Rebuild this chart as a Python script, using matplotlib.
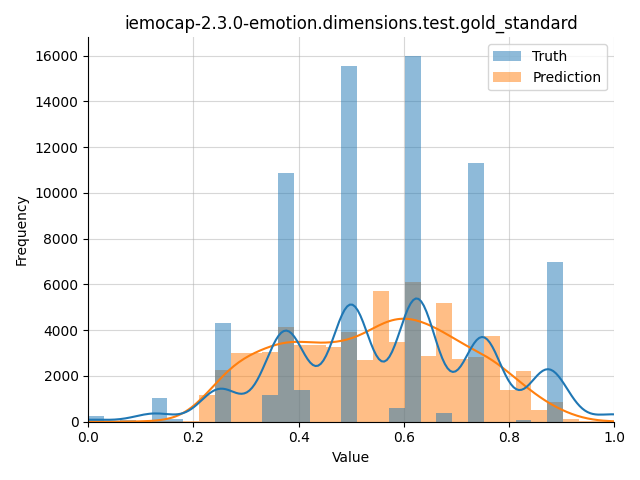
import numpy as np
import matplotlib
matplotlib.use("Agg")
import matplotlib.pyplot as plt

title = "iemocap-2.3.0-emotion.dimensions.test.gold_standard"
series_names = ["Truth", "Prediction"]

# Truth: discrete annotation values and their counts
truth_values = [0.0, 0.0625, 0.125, 0.1667, 0.25, 0.3333, 0.375, 0.4167, 0.5,
                0.5833, 0.625, 0.6667, 0.75, 0.8333, 0.875, 1.0]
truth_counts = [250, 60, 1030, 100, 4300, 1160, 10850, 1400, 15550,
                600, 16000, 380, 11300, 60, 7000, 970]

# Prediction: counts per histogram bin
n_bins = 33
bin_lo, bin_hi = 0.0, 0.9933
pred_counts = [0, 0, 0, 10, 30, 40, 50, 1160, 2260, 3000, 3020, 3050, 4120,
               3360, 3350, 3285, 3930, 2700, 5730, 3490, 6110, 2875, 5200,
               2740, 2850, 3750, 1380, 2215, 505, 855, 125, 30, 10]

bw_truth = 0.037
bw_pred = 0.042

edges = np.linspace(bin_lo, bin_hi, n_bins + 1)
centers = 0.5 * (edges[:-1] + edges[1:])
binw = edges[1] - edges[0]

fig, ax = plt.subplots(figsize=(6.4, 4.8), dpi=100)
ax.grid(True, alpha=0.5)
ax.set_axisbelow(True)

ax.hist(centers, bins=edges, weights=pred_counts, color="C1", alpha=0.5,
        linewidth=0, label="Prediction")
ax.hist(truth_values, bins=edges, weights=truth_counts, color="C0", alpha=0.5,
        linewidth=0, label="Truth")


def kde_curve(vals, wts, h, grid):
    vals = np.asarray(vals, float)
    wts = np.asarray(wts, float)
    z = (grid[:, None] - vals[None, :]) / h
    dens = (np.exp(-0.5 * z ** 2) * wts[None, :]).sum(axis=1) / (np.sqrt(2 * np.pi) * h)
    return dens * binw


all_vals = np.concatenate([np.asarray(truth_values), centers[np.asarray(pred_counts) > 0]])
grid = np.linspace(all_vals.min(), all_vals.max(), 200)
ax.plot(grid, kde_curve(centers, pred_counts, bw_pred, grid), color="C1", lw=1.5)
ax.plot(grid, kde_curve(truth_values, truth_counts, bw_truth, grid), color="C0", lw=1.5)

ax.set_xlim(0, 1)
ax.set_title(title)
ax.set_xlabel("Value")
ax.set_ylabel("Frequency")
ax.spines["top"].set_visible(False)
ax.spines["right"].set_visible(False)

h, l = ax.get_legend_handles_labels()
order = [l.index(n) for n in series_names]
ax.legend([h[i] for i in order], [l[i] for i in order], loc="upper right")

fig.tight_layout()
fig.savefig("out.png", dpi=100)
